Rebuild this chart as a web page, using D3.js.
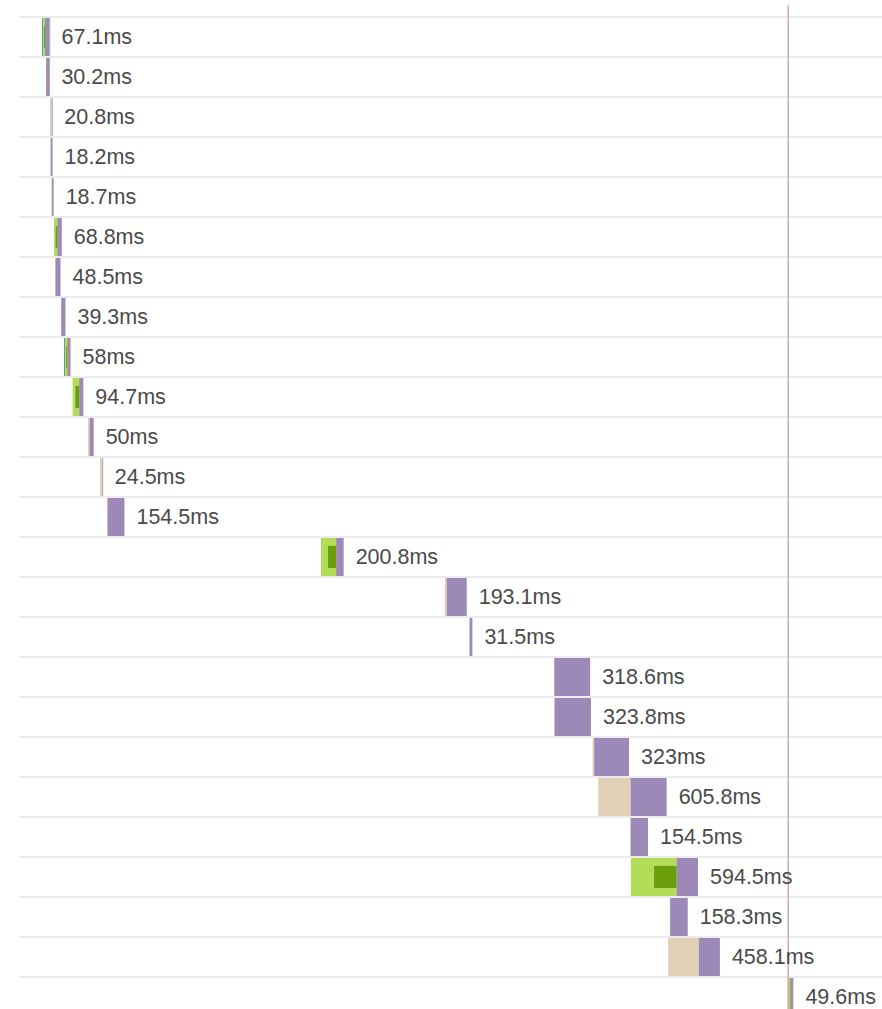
<!DOCTYPE html>
<html><head><meta charset="utf-8">
<script src="https://cdn.jsdelivr.net/npm/d3@7"></script>
<style>html,body{margin:0;padding:0;background:#fff;}svg{display:block;}</style>
</head><body>
<svg id="chart" width="882" height="1009"></svg>
<script>
// Waterfall data (ms)
const durations = [67.1,30.2,20.8,18.2,18.7,68.8,48.5,39.3,58,94.7,50,24.5,154.5,200.8,193.1,31.5,318.6,323.8,323,605.8,154.5,594.5,158.3,458.1,49.6];
const starts    = [195,230,265,270,279,301,310,363,389,466,602,708,770,2664,3761,3973,4728,4730,5068,5118,5404,5407,5752,5737,6796];
const blocked   = [0,4,17,2,4,0,5,3,0,0,15,21,6,0,16,8,2,2,14,287,0,0,3,272,0];
const dns       = [9,0,0,0,0,0,0,0,10,0,0,0,0,0,0,0,0,0,0,0,0,0,0,0,0];
const connect   = [18,0,0,0,0,30,0,0,18,58,0,0,0,134,0,0,0,0,0,0,0,404,0,0,20];
const ssl       = [9,0,0,0,0,15,0,0,8,33,0,0,0,71,0,0,0,0,0,0,0,198,0,0,0];
const send      = [0.1,0.2,0,0,0,0,0,0,8,0,0,0,0,0,0,0,0,0,0,0,0,0,0,0,0];
const wait      = [38,25,3.8,16.2,14.7,38.8,43.5,36.3,22,36.7,35,3.5,148.5,66.8,177.1,23.5,316.6,321.8,309,318.8,154.5,190.5,155.3,186.1,0];
const receive   = [2,1,0,0,0,0,0,0,0,0,0,0,0,0,0,0,0,0,0,0,0,0,0,0,29.6];
const onLoad = 6800;

const phases = ["blocked","dns","connect","send","wait","receive"];
const phaseData = {blocked, dns, connect, send, wait, receive};
const colors = {blocked:"#dfd0b6", dns:"#3ea8a8", connect:"#b3dc58", ssl:"#6a9e0b", send:"#e0894a", wait:"#9c89b8", receive:"#9a9a9a"};

const W = 882, H = 1009;
const rowTop = 17, rowH = 40;
const svg = d3.select("#chart");
const x = d3.scaleLinear().domain([0, 7630]).range([20, 882]);
const y = d3.scaleBand().domain(d3.range(durations.length)).range([rowTop, rowTop + rowH*durations.length]).paddingInner(0);

// grid lines
svg.append("g").selectAll("line").data(d3.range(durations.length)).join("line")
  .attr("x1", 20).attr("x2", W)
  .attr("y1", i => y(i)).attr("y2", i => y(i))
  .attr("stroke", "#ebebeb").attr("stroke-width", 2);

// segments
const segs = [];
durations.forEach((d, i) => {
  let t = starts[i];
  phases.forEach(p => {
    const v = phaseData[p][i];
    if (v > 0) {
      segs.push({i, p, t0: t, t1: t + v});
      if (p === "connect" && ssl[i] > 0) {
        segs.push({i, p: "ssl", t0: t + v - ssl[i], t1: t + v, inset: true});
      }
    }
    t += v;
  });
});
const bh = rowH - 2;
svg.append("g").selectAll("rect").data(segs.filter(s => !s.inset)).join("rect")
  .attr("x", s => x(s.t0)).attr("width", s => Math.max(0.8, x(s.t1) - x(s.t0)))
  .attr("y", s => y(s.i) + 1).attr("height", bh)
  .attr("fill", s => colors[s.p]);
svg.append("g").selectAll("rect").data(segs.filter(s => s.inset)).join("rect")
  .attr("x", s => x(s.t0)).attr("width", s => Math.max(0.8, x(s.t1) - x(s.t0)))
  .attr("y", s => y(s.i) + 9).attr("height", bh - 16)
  .attr("fill", colors.ssl);

// onload line
svg.append("line")
  .attr("x1", x(onLoad)).attr("x2", x(onLoad))
  .attr("y1", 5).attr("y2", H)
  .attr("stroke", "#d6a6b6").attr("stroke-width", 1.5);

// labels
svg.append("g").selectAll("text").data(durations).join("text")
  .attr("x", (d, i) => x(starts[i] + d) + 12)
  .attr("y", (d, i) => y(i) + rowH/2)
  .attr("dy", "0.33em")
  .attr("font-family", "'Liberation Sans', Arial, sans-serif")
  .attr("font-size", 21.5)
  .attr("fill", "#4a4a4a")
  .text(d => d + "ms");
</script>
</body></html>
